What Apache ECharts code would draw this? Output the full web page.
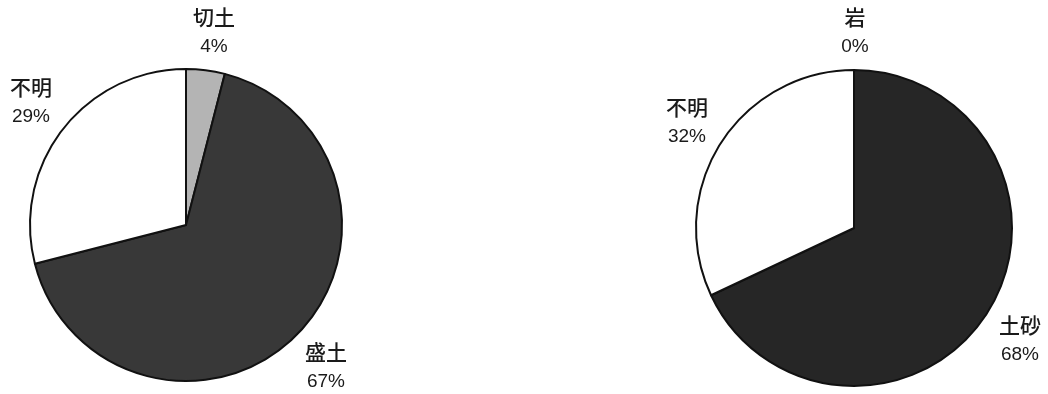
<!DOCTYPE html>
<html>
<head>
<meta charset="utf-8">
<script src="https://cdn.jsdelivr.net/npm/echarts@6/dist/echarts.min.js"></script>
<style>
html,body{margin:0;padding:0;background:#fff;}
#chart{width:1048px;height:394px;}
</style>
</head>
<body>
<div id="chart"></div>
<script>
// Left pie: cut / fill / unknown
const leftCategories = ['切土', '盛土', '不明'];
const leftValues = [4, 67, 29];
// Right pie: rock / soil / unknown
const rightCategories = ['岩', '土砂', '不明'];
const rightValues = [0, 68, 32];

const leftColors = ['#b4b4b4', '#383838', '#ffffff'];
const rightColors = ['#555555', '#262626', '#ffffff'];

// label anchor points (centre of each label block)
const leftLabelPos = [[214, 32], [326, 367], [31, 102]];
const rightLabelPos = [[855, 32], [1020, 340], [687, 122]];

const chart = echarts.init(document.getElementById('chart'), null, {renderer: 'canvas'});

function makeSeries(cats, vals, colors, center, radius, labelPos) {
  return {
    type: 'pie',
    center: center,
    radius: radius,
    startAngle: 90,
    clockwise: true,
    percentPrecision: 0,
    animation: false,
    silent: true,
    data: cats.map((c, i) => ({
      name: c,
      value: vals[i],
      itemStyle: {color: colors[i]}
    })),
    itemStyle: {borderColor: '#111', borderWidth: 2},
    label: {
      show: true,
      position: 'inside',
      formatter: '{b|{b}}\n{v|{d}%}',
      align: 'center',
      verticalAlign: 'middle',
      color: '#1a1a1a',
      rich: {
        b: {fontSize: 21, fontFamily: 'Noto Sans CJK JP', fontWeight: 500, color: '#1a1a1a', lineHeight: 29, align: 'center'},
        v: {fontSize: 19, fontFamily: 'Liberation Sans', color: '#1a1a1a', lineHeight: 29, align: 'center'}
      }
    },
    labelLine: {show: false},
    labelLayout: function (params) {
      const p = labelPos[params.dataIndex];
      return {x: p[0], y: p[1], align: 'center', verticalAlign: 'middle', hideOverlap: false};
    }
  };
}

chart.setOption({
  backgroundColor: '#fff',
  series: [
    makeSeries(leftCategories, leftValues, leftColors, [186, 225], 156, leftLabelPos),
    makeSeries(rightCategories, rightValues, rightColors, [854, 228], 158, rightLabelPos)
  ]
});
</script>
</body>
</html>
